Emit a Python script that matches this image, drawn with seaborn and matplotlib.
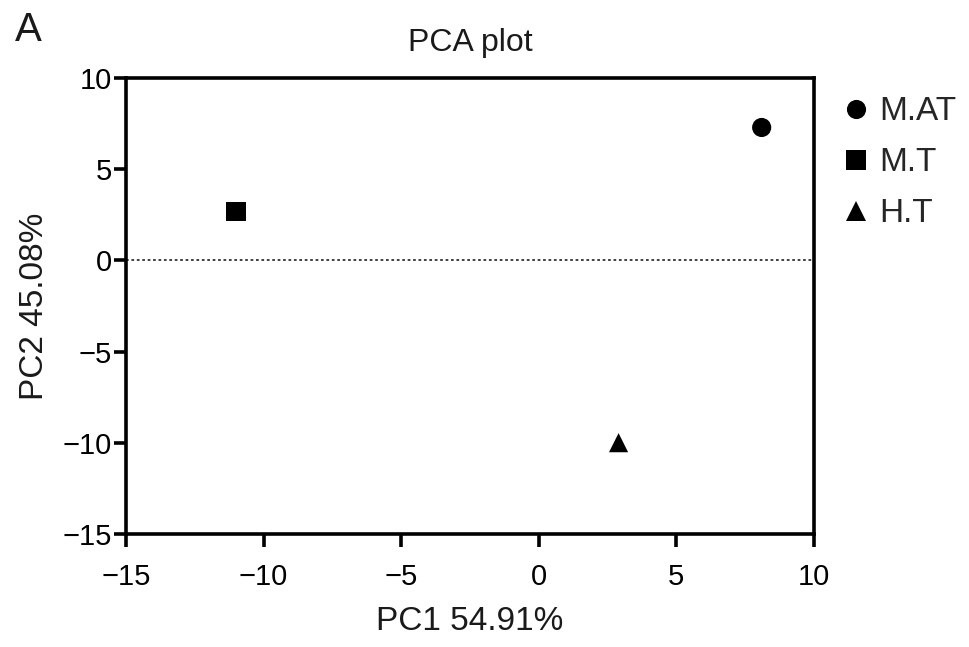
import seaborn as sns
import matplotlib.pyplot as plt
import pandas as pd

groups = ['M.AT', 'M.T', 'H.T']
pc1 = [8.1, -11.0, 2.9]
pc2 = [7.3, 2.7, -10.0]

pca_df = pd.DataFrame({'group': groups, 'PC1': pc1, 'PC2': pc2})

sns.set_style('ticks')
plt.rcParams['font.family'] = ['Liberation Sans', 'DejaVu Sans']

fig = plt.figure(figsize=(9.69, 6.47), dpi=100)
ax = fig.add_axes([0.130, 0.175, 0.710, 0.704])

ax.axhline(0, color='#333333', linestyle=(0, (1.5, 1.5)), linewidth=1.3, zorder=1)

sns.scatterplot(data=pca_df, x='PC1', y='PC2', style='group',
                markers={'M.AT': 'o', 'M.T': 's', 'H.T': '^'},
                color='black', s=190, edgecolor='black', linewidth=0,
                ax=ax, zorder=3)

ax.set_xlim(-15, 10)
ax.set_ylim(-15, 10)
ax.set_xticks([-15, -10, -5, 0, 5, 10])
ax.set_yticks([-15, -10, -5, 0, 5, 10])
ax.set_xticklabels(['\u221215', '\u221210', '\u22125', '0', '5', '10'])
ax.set_yticklabels(['\u221215', '\u221210', '\u22125', '0', '5', '10'])

for s in ax.spines.values():
    s.set_linewidth(2.6)
    s.set_color('black')
ax.tick_params(direction='out', length=9, width=2.6, labelsize=21, colors='black')
ax.tick_params(axis='x', pad=12)
ax.tick_params(axis='y', pad=1)

ax.set_xlabel('PC1 54.91%', fontsize=24, labelpad=11, color='#1a1a1a')
ax.set_ylabel('PC2 45.08%', fontsize=24, labelpad=9, color='#1a1a1a')
ax.set_title('PCA plot', fontsize=23, pad=20, color='#1a1a1a')

fig.text(0.015, 0.925, 'A', fontsize=29, ha='left', va='bottom', color='#1a1a1a')

leg = ax.legend(loc='upper left', bbox_to_anchor=(1.012, 0.99), frameon=False,
                fontsize=24, handletextpad=0.1, labelspacing=0.6, markerscale=1.0,
                handlelength=1.2, borderaxespad=0)

fig.savefig('out.png', dpi=100)
